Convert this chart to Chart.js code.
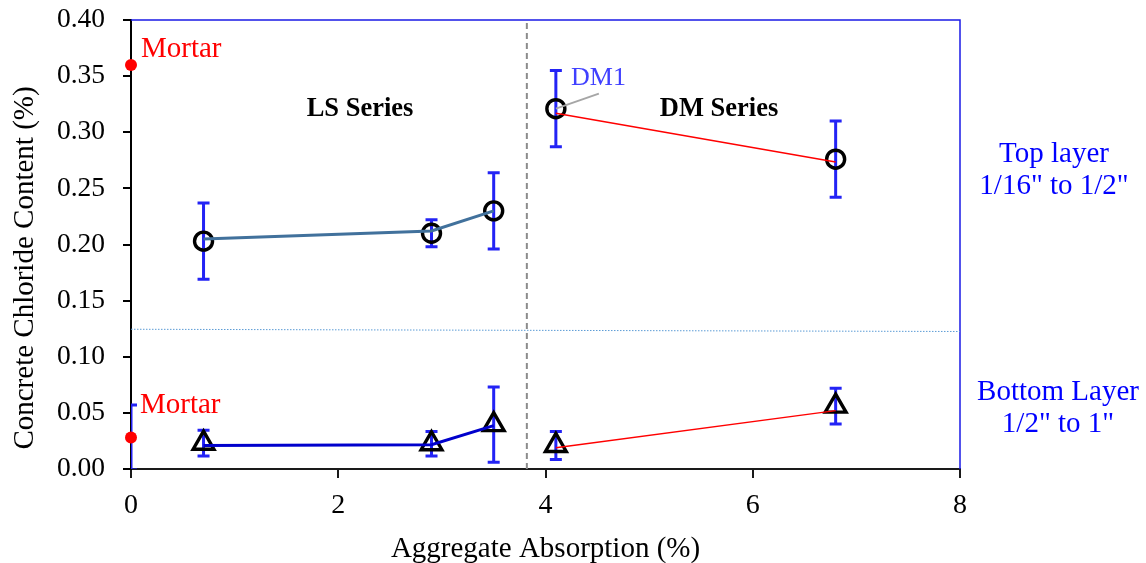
<!DOCTYPE html>
<html>
<head>
<meta charset="utf-8">
<script src="https://cdn.jsdelivr.net/npm/chart.js@4/dist/chart.umd.min.js"></script>
<style>
  html, body { margin: 0; padding: 0; background: #ffffff; }
  #wrap { width: 1146px; height: 563px; }
</style>
</head>
<body>
<div id="wrap"><canvas id="c" width="1146" height="563"></canvas></div>
<script>
// Aggregate absorption (%) of each mix
const lsX = [0.7, 2.9, 3.5];
const dmX = [4.1, 6.8];
const absorption = lsX.concat(dmX);

// Top layer (1/16" to 1/2") chloride content, mean and +/- spread
const topMean = [0.203, 0.210, 0.230, 0.321, 0.276];
const topErr  = [0.034, 0.012, 0.034, 0.034, 0.034];

// Bottom layer (1/2" to 1") chloride content, mean and +/- spread
const bottomMean = [0.023, 0.0225, 0.0395, 0.021, 0.056];
const bottomErr  = [0.0115, 0.011, 0.0335, 0.0125, 0.016];

// Trend lines through each series
const lsTopTrend    = [0.205, 0.212, 0.230];
const lsBottomTrend = [0.021, 0.0217, 0.0386];
const dmTopTrend    = [0.317, 0.2735];
const dmBottomTrend = [0.019, 0.052];

// Mortar reference values (top, bottom)
const mortarX   = [0, 0];
const mortarY   = [0.36, 0.028];
const mortarErr = [0, 0.029];

// Divider between LS and DM series, and between top and bottom layers
const seriesSplitX = 3.82;
const layerSplitY  = [0.1245, 0.1225];

// Axis ticks
const xTicks = [0, 2, 4, 6, 8];
const yTicks = [0.00, 0.05, 0.10, 0.15, 0.20, 0.25, 0.30, 0.35, 0.40];

const FONT = '"Liberation Serif", "Times New Roman", Times, serif';
const pts = (xs, ys) => xs.map((x, i) => ({ x: x, y: ys[i] }));

// Vertical error bars with caps, read from dataset.errorBars
const errorBarPlugin = {
  id: 'errorBars',
  beforeDatasetsDraw(chart) {
    const { ctx, chartArea, scales } = chart;
    ctx.save();
    ctx.beginPath();
    ctx.rect(chartArea.left, chartArea.top, chartArea.right - chartArea.left, chartArea.bottom - chartArea.top);
    ctx.clip();
    ctx.strokeStyle = '#2323f5';
    ctx.lineWidth = 3;
    ctx.lineCap = 'butt';
    chart.data.datasets.forEach(ds => {
      if (!ds.errorBars) return;
      ds.data.forEach((p, i) => {
        const e = ds.errorBars[i];
        if (!e) return;
        const px = scales.x.getPixelForValue(p.x);
        const yTop = scales.y.getPixelForValue(p.y + e);
        const yBot = scales.y.getPixelForValue(p.y - e);
        ctx.beginPath();
        ctx.moveTo(px, yTop); ctx.lineTo(px, yBot);
        ctx.moveTo(px - 6, yTop); ctx.lineTo(px + 6, yTop);
        ctx.moveTo(px - 6, yBot); ctx.lineTo(px + 6, yBot);
        ctx.stroke();
      });
    });
    ctx.restore();
  }
};

// Frame, axis titles and text notes
const notesPlugin = {
  id: 'notes',
  beforeDatasetsDraw(chart) {
    const { ctx, chartArea } = chart;
    ctx.save();
    ctx.strokeStyle = '#1a1ae6';
    ctx.lineWidth = 1.5;
    ctx.beginPath();
    ctx.moveTo(chartArea.left, chartArea.top);
    ctx.lineTo(chartArea.right, chartArea.top);
    ctx.lineTo(chartArea.right, chartArea.bottom);
    ctx.stroke();
    ctx.restore();
  },
  afterDatasetsDraw(chart) {
    const { ctx, chartArea, scales } = chart;
    const sx = v => scales.x.getPixelForValue(v);
    const sy = v => scales.y.getPixelForValue(v);
    ctx.save();

    // DM1 leader line
    ctx.strokeStyle = '#a6a6a6';
    ctx.lineWidth = 2;
    ctx.beginPath();
    ctx.moveTo(sx(dmX[0]), sy(topMean[3]));
    ctx.lineTo(sx(dmX[0]) + 43, sy(topMean[3]) - 15);
    ctx.stroke();

    ctx.textBaseline = 'alphabetic';
    ctx.textAlign = 'left';
    ctx.fillStyle = '#ff0000';
    ctx.font = '29px ' + FONT;
    ctx.fillText('Mortar', chartArea.left + 10, 57);
    ctx.fillText('Mortar', chartArea.left + 9, 413);

    ctx.fillStyle = '#4040ff';
    ctx.font = '26px ' + FONT;
    ctx.fillText('DM1', 571, 85);

    ctx.fillStyle = '#000000';
    ctx.font = 'bold 26.5px ' + FONT;
    ctx.textAlign = 'center';
    ctx.fillText('LS Series', 360, 116);
    ctx.fillText('DM Series', 719, 116);

    ctx.fillStyle = '#0000ff';
    ctx.font = '29px ' + FONT;
    ctx.fillText('Top layer', 1054, 162);
    ctx.fillText('1/16" to 1/2"', 1054, 194);
    ctx.fillText('Bottom Layer', 1058, 400);
    ctx.fillText('1/2" to 1"', 1058, 432);

    // Axis titles
    ctx.fillStyle = '#000000';
    ctx.font = '29px ' + FONT;
    ctx.fillText('Aggregate Absorption (%)', (chartArea.left + chartArea.right) / 2, 557);
    ctx.translate(33, 268);
    ctx.rotate(-Math.PI / 2);
    ctx.fillText('Concrete Chloride Content (%)', 0, 0);
    ctx.restore();
  }
};

const markerBase = {
  showLine: false,
  borderColor: '#000000',
  backgroundColor: 'rgba(0,0,0,0)',
  borderWidth: 3.4,
  pointBorderWidth: 3.4
};

new Chart(document.getElementById('c'), {
  type: 'scatter',
  data: {
    datasets: [
      { label: 'Series divider', data: [{ x: seriesSplitX, y: 0 }, { x: seriesSplitX, y: 0.4 }],
        showLine: true, borderColor: '#8c8c8c', borderWidth: 2, borderDash: [6, 4], pointRadius: 0 },
      { label: 'Layer divider', data: [{ x: 0, y: layerSplitY[0] }, { x: 8, y: layerSplitY[1] }],
        showLine: true, borderColor: '#5b9bd5', borderWidth: 1, borderDash: [1.5, 1.5], pointRadius: 0 },
      { label: 'LS top', data: pts(lsX, lsTopTrend), showLine: true,
        borderColor: '#41719c', borderWidth: 3, pointRadius: 0 },
      { label: 'LS bottom', data: pts(lsX, lsBottomTrend), showLine: true,
        borderColor: '#0000cc', borderWidth: 3, pointRadius: 0 },
      { label: 'DM top', data: pts(dmX, dmTopTrend), showLine: true,
        borderColor: '#ff0000', borderWidth: 1.5, pointRadius: 0 },
      { label: 'DM bottom', data: pts(dmX, dmBottomTrend), showLine: true,
        borderColor: '#ff0000', borderWidth: 1.5, pointRadius: 0 },
      Object.assign({ label: 'Top layer', data: pts(absorption, topMean), errorBars: topErr,
        pointStyle: 'circle', pointRadius: 9 }, markerBase),
      Object.assign({ label: 'Bottom layer', data: pts(absorption, bottomMean), errorBars: bottomErr,
        pointStyle: 'triangle', pointRadius: 12 }, markerBase),
      { label: 'Mortar', data: pts(mortarX, mortarY), errorBars: mortarErr, showLine: false,
        pointStyle: 'circle', pointRadius: 6, backgroundColor: '#ff0000', borderColor: '#ff0000',
        borderWidth: 0, clip: false }
    ]
  },
  options: {
    responsive: false,
    animation: false,
    devicePixelRatio: 1,
    layout: { padding: { left: 0, right: 186, top: 20, bottom: 0 } },
    plugins: { legend: { display: false }, tooltip: { enabled: false } },
    scales: {
      x: {
        type: 'linear', min: 0, max: 8,
        afterBuildTicks: s => { s.ticks = xTicks.map(v => ({ value: v })); },
        afterFit: s => { s.height = 94; s.paddingLeft = 0; s.paddingRight = 0; },
        border: { display: true, color: '#1a1a1a', width: 2 },
        grid: { drawOnChartArea: false, drawTicks: true, tickLength: 9, color: '#1a1a1a', lineWidth: 2 },
        ticks: { color: '#000', padding: 11, font: { family: FONT, size: 28 }, maxRotation: 0 }
      },
      y: {
        type: 'linear', min: 0, max: 0.4,
        afterBuildTicks: s => { s.ticks = yTicks.map(v => ({ value: v })); },
        afterFit: s => { s.width = 131; s.paddingTop = 0; s.paddingBottom = 0; },
        border: { display: true, color: '#000', width: 2 },
        grid: { drawOnChartArea: false, drawTicks: true, tickLength: 8, color: '#000', lineWidth: 2 },
        ticks: { color: '#000', padding: 18, font: { family: FONT, size: 27.5 },
          callback: v => Number(v).toFixed(2) }
      }
    }
  },
  plugins: [errorBarPlugin, notesPlugin]
});
</script>
</body>
</html>
